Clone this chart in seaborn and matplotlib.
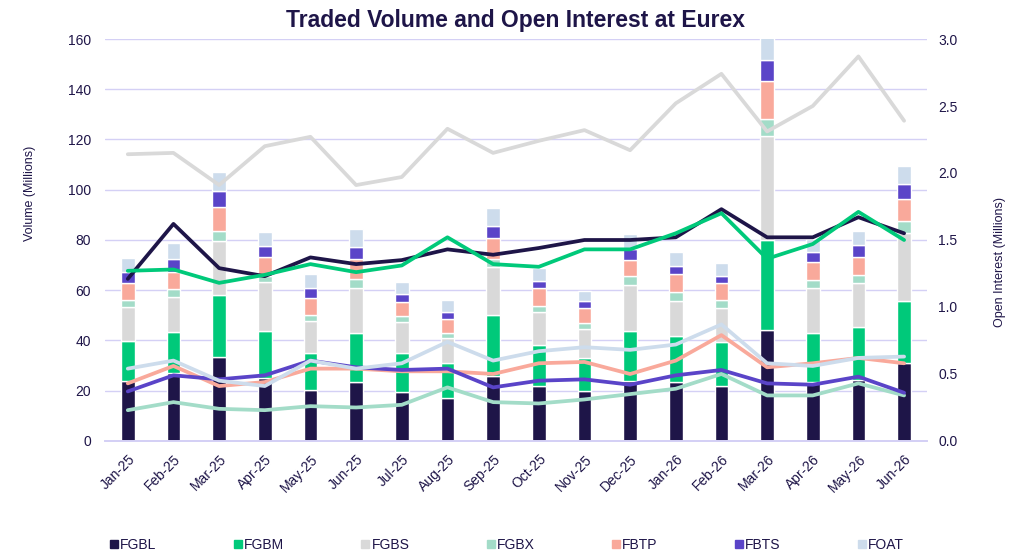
import numpy as np
import pandas as pd
import matplotlib
matplotlib.use('Agg')
import matplotlib.pyplot as plt
from matplotlib.lines import Line2D
import seaborn as sns

sns.set_theme(style='white')
plt.rcParams['font.family'] = ['Liberation Sans', 'DejaVu Sans']

months = ['Jan-25', 'Feb-25', 'Mar-25', 'Apr-25', 'May-25', 'Jun-25', 'Jul-25', 'Aug-25', 'Sep-25',
          'Oct-25', 'Nov-25', 'Dec-25', 'Jan-26', 'Feb-26', 'Mar-26', 'Apr-26', 'May-26', 'Jun-26']
contracts = ['FGBL', 'FGBM', 'FGBS', 'FGBX', 'FBTP', 'FBTS', 'FOAT']
colors = ['#1e1548', '#00c97a', '#d9d9d9', '#a3dcc8', '#f9a99b', '#5a44c8', '#cddcec']

# traded volume (millions) per contract
vol_fgbl = [23.8, 27.0, 33.5, 25.0, 20.4, 23.3, 19.4, 17.2, 26.0, 21.7, 19.7, 24.0, 23.6, 21.8, 44.2, 23.6, 24.3, 31.0]
vol_fgbm = [16.0, 16.5, 24.5, 18.8, 14.5, 19.5, 15.5, 13.7, 24.1, 16.6, 13.2, 19.8, 18.3, 17.5, 35.8, 19.4, 21.2, 24.8]
vol_fgbs = [13.5, 13.9, 21.6, 19.3, 12.8, 17.9, 12.3, 10.1, 19.3, 12.9, 11.7, 18.3, 13.9, 13.5, 41.5, 17.7, 17.2, 27.1]
vol_fgbx = [2.7, 2.9, 4.0, 2.6, 2.4, 3.7, 2.4, 2.1, 3.2, 2.6, 2.2, 3.4, 3.4, 3.3, 6.6, 3.2, 3.4, 4.6]
vol_fbtp = [7.0, 7.1, 9.6, 7.6, 6.9, 7.9, 5.8, 5.4, 8.3, 6.9, 6.2, 6.7, 7.2, 6.6, 15.0, 7.5, 7.2, 8.9]
vol_fbts = [4.2, 5.2, 6.2, 4.3, 4.0, 4.9, 3.0, 2.9, 4.7, 2.8, 2.7, 4.1, 3.4, 2.8, 8.6, 3.8, 4.7, 5.7]
vol_foat = [5.6, 6.3, 7.7, 5.7, 5.6, 7.0, 4.7, 4.7, 7.0, 5.4, 4.1, 5.9, 5.4, 5.5, 9.5, 5.1, 5.6, 7.5]

# open interest (millions) per contract
oi_fgbl = [1.21, 1.62, 1.29, 1.23, 1.37, 1.32, 1.35, 1.43, 1.39, 1.44, 1.50, 1.50, 1.52, 1.73, 1.52, 1.52, 1.67, 1.55]
oi_fgbm = [1.27, 1.28, 1.18, 1.24, 1.32, 1.26, 1.31, 1.52, 1.32, 1.30, 1.43, 1.43, 1.55, 1.70, 1.36, 1.47, 1.71, 1.50]
oi_fgbs = [2.14, 2.15, 1.91, 2.20, 2.27, 1.91, 1.97, 2.33, 2.15, 2.24, 2.32, 2.17, 2.52, 2.74, 2.31, 2.50, 2.87, 2.39]
oi_fgbx = [0.23, 0.29, 0.24, 0.23, 0.26, 0.25, 0.27, 0.40, 0.29, 0.28, 0.31, 0.35, 0.39, 0.50, 0.34, 0.34, 0.43, 0.34]
oi_fbtp = [0.43, 0.56, 0.41, 0.44, 0.54, 0.54, 0.52, 0.52, 0.50, 0.58, 0.59, 0.50, 0.60, 0.79, 0.55, 0.58, 0.62, 0.58]
oi_fbts = [0.37, 0.49, 0.46, 0.49, 0.60, 0.55, 0.53, 0.54, 0.40, 0.45, 0.46, 0.42, 0.49, 0.53, 0.43, 0.42, 0.48, 0.36]
oi_foat = [0.54, 0.60, 0.45, 0.41, 0.60, 0.54, 0.58, 0.74, 0.60, 0.67, 0.70, 0.68, 0.72, 0.87, 0.58, 0.56, 0.62, 0.63]

volumes = [vol_fgbl, vol_fgbm, vol_fgbs, vol_fgbx, vol_fbtp, vol_fbts, vol_foat]
open_int = [oi_fgbl, oi_fgbm, oi_fgbs, oi_fgbx, oi_fbtp, oi_fbts, oi_foat]

text_col = '#1e1548'
grid_col = '#d4d0f5'

fig = plt.figure(figsize=(10.24, 5.58), dpi=100)
ax = fig.add_axes([0.1025, 0.2097, 0.8027, 0.7204])
ax2 = ax.twinx()

x = np.arange(len(months))

# stacked volume bars
bottom = np.zeros(len(months))
for name, vals, col in zip(contracts, volumes, colors):
    ax.bar(x, vals, width=0.3, bottom=bottom, color=col, label=name, zorder=2)
    bottom += np.array(vals)

# open interest lines
oi_df = pd.DataFrame({
    'pos': np.tile(x, len(contracts)),
    'oi': np.concatenate(open_int),
    'contract': np.repeat(contracts, len(months)),
})
sns.lineplot(data=oi_df, x='pos', y='oi', hue='contract', hue_order=contracts,
             palette=colors, linewidth=2.7, legend=False, ax=ax2)

ax.set_xlim(-0.5, len(months) - 0.5)
ax.set_ylim(0, 160)
ax.set_yticks(np.arange(0, 161, 20))
ax2.set_ylim(0, 3.0)
ax2.set_yticks(np.arange(0, 3.01, 0.5))
ax2.set_yticklabels([f'{v:.1f}' for v in np.arange(0, 3.01, 0.5)])

ax.set_xticks(x)
ax.set_xticklabels(months, rotation=45, ha='right', rotation_mode='anchor')
ax.set_xticks(np.arange(-0.5, len(months), 1), minor=True)
ax.tick_params(axis='x', which='major', length=0, pad=8, labelsize=10, labelcolor=text_col)
ax.tick_params(axis='x', which='minor', length=5, width=1, color=grid_col)
ax.tick_params(axis='y', length=0, labelsize=10, labelcolor=text_col, pad=10)
ax2.tick_params(axis='y', length=0, labelsize=10, labelcolor=text_col, pad=8)
ax2.set_xlabel('')

ax.yaxis.grid(True, color=grid_col, linewidth=1, zorder=0)
ax.set_axisbelow(True)
for a in (ax, ax2):
    for s in ('top', 'left', 'right'):
        a.spines[s].set_visible(False)
    a.spines['bottom'].set_color(grid_col)

ax.set_ylabel('Volume (Millions)', fontsize=9, color=text_col)
ax.yaxis.set_label_coords(-0.084, 0.617)
ax2.set_ylabel('Open Interest (Millions)', fontsize=9, color=text_col)
ax2.yaxis.set_label_coords(1.081, 0.445)

ax.set_title('Traded Volume and Open Interest at Eurex', fontsize=16.5, fontweight='bold',
             color=text_col, pad=9)

handles = [Line2D([0], [0], marker='s', linestyle='', markersize=6, color=c) for c in colors]
fig.legend(handles, contracts, loc='lower left', bbox_to_anchor=(0.095, -0.012, 0.8, 0.05),
           ncol=7, mode='expand', frameon=False, fontsize=10, handlelength=0.6,
           handletextpad=0.15, labelcolor=text_col)

fig.savefig('out.png', dpi=100)
